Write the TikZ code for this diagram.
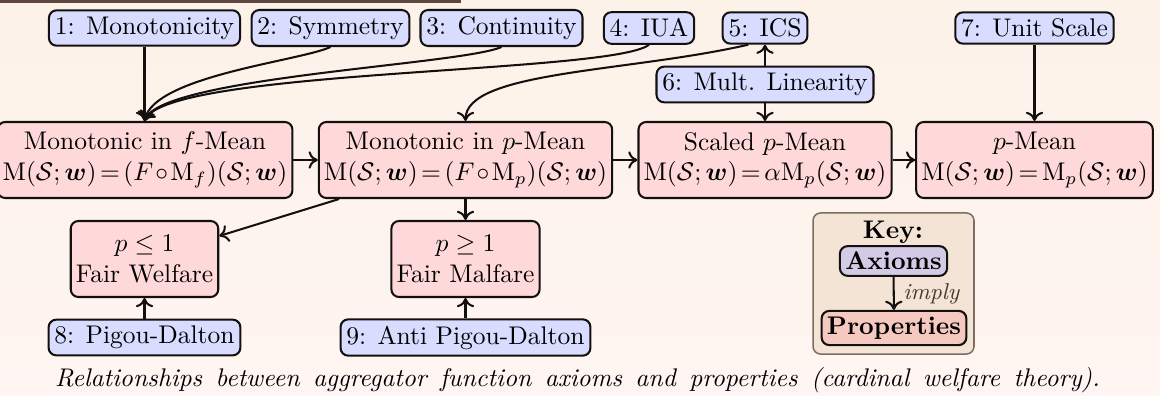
\documentclass[tikz,border=0pt]{standalone}
\usepackage{amsmath,amssymb}
\usetikzlibrary{arrows.meta}

\definecolor{axfill}{RGB}{216,220,255}
\definecolor{prfill}{RGB}{255,217,218}
\definecolor{keyfill}{RGB}{244,228,214}
\definecolor{keydraw}{RGB}{125,108,98}
\definecolor{keyax}{RGB}{211,203,229}
\definecolor{keypr}{RGB}{245,201,192}
\definecolor{bartone}{RGB}{94,70,62}
\definecolor{bgtop}{RGB}{253,242,232}
\definecolor{bgbot}{RGB}{255,245,242}
\definecolor{implytext}{RGB}{70,58,52}
\definecolor{edge}{RGB}{20,16,16}

\newcommand{\Mw}{\mathrm{M}(\mathcal{S};\boldsymbol{w})}
\newcommand{\Sw}{(\mathcal{S};\boldsymbol{w})}
\newcommand{\tightmath}{\thickmuskip=2.5mu\medmuskip=1.5mu\relax}
\newcommand{\wideineq}[1]{$\thickmuskip=5mu plus 5mu #1$}

\begin{document}
\begin{tikzpicture}[x=0.392pt,y=-0.392pt,
  axiom/.style={draw=edge, line width=0.8pt, rounded corners=3pt, fill=axfill,
    inner xsep=2.3pt, inner ysep=2.5pt},
  prop/.style={draw=edge, line width=0.8pt, rounded corners=3pt, fill=prfill,
    align=center, inner xsep=2pt, inner ysep=3pt, minimum height=29.8pt,
    execute at begin node=\tightmath},
  keybox/.style={draw=keydraw, line width=0.6pt, rounded corners=3pt, fill=keyfill},
  keyax/.style={draw=edge, line width=0.8pt, rounded corners=3pt, fill=keyax,
    inner xsep=2.1pt, inner ysep=2.3pt, font=\bfseries},
  keypr/.style={draw=edge, line width=0.8pt, rounded corners=3pt, fill=keypr,
    inner xsep=2.1pt, inner ysep=2.3pt, font=\bfseries},
  link/.style={draw=edge, line width=0.8pt, -{To[length=3.6pt,width=6.8pt]}}]

  % page and background
  \useasboundingbox (0,0) rectangle (1160,396);
  \shade[top color=bgtop, bottom color=bgbot] (0,0) rectangle (1160,396);
  \fill[bartone] (0,0) rectangle (461,3);

  % axioms
  \node[axiom] (n1) at (144.5,28) {1: Monotonicity};
  \node[axiom] (n2) at (330.5,28) {2: Symmetry};
  \node[axiom] (n3) at (501.5,28) {3: Continuity};
  \node[axiom] (n4) at (649,28) {4: IUA};
  \node[axiom] (n5) at (765,28) {5: ICS};
  \node[axiom] (n6) at (765,84.5) {6: Mult. Linearity};
  \node[axiom] (n7) at (1034.5,28) {7: Unit Scale};
  \node[axiom] (n8) at (144.5,337.5) {8: Pigou-Dalton};
  \node[axiom] (n9) at (465.5,337.5) {9: Anti Pigou-Dalton};

  % properties
  \node[prop] (fm) at (145,160) {Monotonic in $f$-Mean\\$\Mw=(F\circ\mathrm{M}_f)\Sw$};
  \node[prop] (pm) at (465.5,160) {Monotonic in $p$-Mean\\$\Mw=(F\circ\mathrm{M}_p)\Sw$};
  \node[prop] (sc) at (765,160) {Scaled $p$-Mean\\$\Mw=\alpha\mathrm{M}_p\Sw$};
  \node[prop] (pmn) at (1034.5,160) {$p$-Mean\\$\Mw=\mathrm{M}_p\Sw$};
  \node[prop] (welf) at (144.5,259) {\wideineq{p\le 1}\\Fair Welfare};
  \node[prop] (malf) at (465.5,259) {\wideineq{p\ge 1}\\Fair Malfare};

  % implications along the main row
  \draw[link] (fm) -- (pm);
  \draw[link] (pm) -- (sc);
  \draw[link] (sc) -- (pmn);
  \draw[link] (pm) -- (welf);
  \draw[link] (pm) -- (malf);

  % axioms feeding the properties
  \draw[link] (n1) -- (n1 |- fm.north);
  \draw[link] (n2.south) .. controls +(-30.5,14) and +(10,-45) .. (n1 |- fm.north);
  \draw[link] (n3.south) .. controls +(-41.5,18) and +(18,-44) .. (n1 |- fm.north);
  \draw[link] (n4.south) .. controls +(-39,29) and +(25,-52) .. (n1 |- fm.north);
  \draw[link] (n5.-135) .. controls +(-120,27.6) and +(0,-50) .. (pm.north);
  \draw[link] (n6) -- (n5);
  \draw[link] (n6) -- (sc);
  \draw[link] (n7) -- (pmn);
  \draw[link] (n8) -- (welf);
  \draw[link] (n9) -- (malf);

  % legend
  \node[keybox, minimum width=63.1pt, minimum height=55.3pt] (key) at (893.5,283.5) {};
  \node[font=\bfseries, inner sep=0pt] (keyt) at (893,232) {Key:};
  \node[keyax] (kax) at (893.5,261) {Axioms};
  \node[keypr] (kpr) at (894,328) {Properties};
  \draw[link] (kax) -- node[right, font=\small\itshape, text=implytext] {imply} (kpr);

  % caption, spread over its full line
  \node[font=\itshape, inner sep=0pt] (cap) at (577.5,380)
    {\makebox[409.6pt][s]{Relationships between aggregator function axioms and properties (cardinal welfare theory).}};
\end{tikzpicture}
\end{document}
